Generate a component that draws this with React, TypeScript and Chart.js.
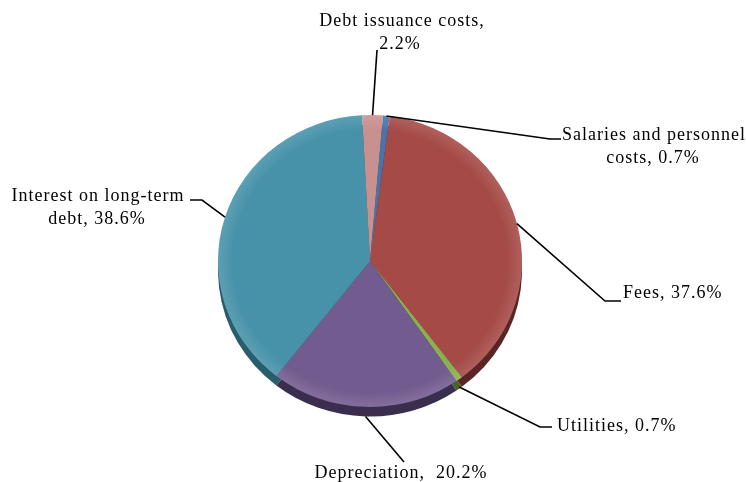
import { useEffect, useRef } from "react";
import { Chart, registerables } from "chart.js";
Chart.register(...registerables);

const categories = [
  "Debt issuance costs",
  "Salaries and personnel costs",
  "Fees",
  "Utilities",
  "Depreciation",
  "Interest on long-term debt",
];
const values = [2.2, 0.7, 37.6, 0.7, 20.2, 38.6];
const labelText = [
  ["Debt issuance costs,", "2.2%"],
  ["Salaries and personnel", "costs, 0.7%"],
  ["Fees, 37.6%"],
  ["Utilities, 0.7%"],
  ["Depreciation,  20.2%"],
  ["Interest on long-term", "debt, 38.6%"],
];
const colors = ["#C8908E", "#4A74A8", "#A54A47", "#8CAF50", "#725B8F", "#4792A9"];
const shadowColors = ["#6E4A49", "#26405E", "#5A2624", "#4C6128", "#3A2D4D", "#2A5D6C"];

const YSCALE = 0.96;
const SHADOW = 10;

// label layout: leader elbow points and text lines (x, y baseline, align)
const layout = [
  { pts: [[377, 50]], lines: [[402, 26, "center"], [400, 49, "center"]] },
  { pts: [[550, 139], [561, 139]], lines: [[654, 140, "center"], [653, 163, "center"]] },
  { pts: [[605, 301], [621, 301]], lines: [[623, 298, "left"]] },
  { pts: [[540, 427], [552, 427]], lines: [[557, 431, "left"]] },
  { pts: [[404, 462]], lines: [[401, 478, "center"]] },
  { pts: [[202, 200], [190, 200]], lines: [[98, 201, "center"], [97, 224, "center"]] },
];

const pie3d = {
  id: "pie3d",
  beforeDatasetsDraw(chart: any) {
    const ctx = chart.ctx;
    const arcs = chart.getDatasetMeta(0).data;
    if (!arcs.length) return;
    const cx = arcs[0].x, cy = arcs[0].y;
    ctx.save();
    ctx.translate(cx, cy);
    ctx.scale(1, YSCALE);
    ctx.translate(-cx, -cy);
    arcs.forEach((a: any, i: number) => {
      ctx.beginPath();
      ctx.moveTo(a.x, a.y + SHADOW);
      ctx.arc(a.x, a.y + SHADOW, a.outerRadius, a.startAngle, a.endAngle);
      ctx.closePath();
      ctx.fillStyle = shadowColors[i];
      ctx.fill();
    });
  },
  afterDatasetsDraw(chart: any) {
    const ctx = chart.ctx;
    const arcs = chart.getDatasetMeta(0).data;
    // soft bevel on the top face
    if (arcs.length) {
      const a0 = arcs[0];
      const g = ctx.createRadialGradient(a0.x, a0.y, a0.outerRadius * 0.9, a0.x, a0.y, a0.outerRadius);
      g.addColorStop(0, "rgba(255,255,255,0)");
      g.addColorStop(1, "rgba(255,255,255,0.12)");
      ctx.beginPath();
      ctx.arc(a0.x, a0.y, a0.outerRadius, 0, Math.PI * 2);
      ctx.fillStyle = g;
      ctx.fill();
    }
    ctx.restore();
    ctx.save();
    ctx.strokeStyle = "#000";
    ctx.lineWidth = 1.6;
    arcs.forEach((a: any, i: number) => {
      const mid = (a.startAngle + a.endAngle) / 2;
      const sx = a.x + Math.cos(mid) * a.outerRadius;
      let sy = a.y + Math.sin(mid) * a.outerRadius * YSCALE;
      if (Math.sin(mid) > 0.5) sy += SHADOW * YSCALE * Math.sin(mid);
      ctx.beginPath();
      ctx.moveTo(sx, sy);
      layout[i].pts.forEach((p) => ctx.lineTo(p[0], p[1]));
      ctx.stroke();
      ctx.fillStyle = "#000";
      ctx.font = "18px 'Liberation Serif'";
      (ctx as any).letterSpacing = "1px";
      ctx.textBaseline = "alphabetic";
      labelText[i].forEach((t, j) => {
        const l: any = layout[i].lines[j];
        ctx.textAlign = l[2];
        ctx.fillText(t, l[0], l[1]);
      });
    });
    ctx.restore();
  },
};

export default function App() {
  const ref = useRef<HTMLCanvasElement>(null);
  useEffect(() => {
    if (!ref.current) return;
    const chart = new Chart(ref.current, {
      type: "pie",
      data: {
        labels: categories,
        datasets: [
          {
            data: values,
            backgroundColor: colors,
            borderWidth: 0,
          },
        ],
      },
      options: {
        animation: false,
        responsive: true,
        maintainAspectRatio: false,
        events: [],
        rotation: -3,
        layout: { padding: { left: 218, right: 224, top: 109, bottom: 69 } },
        plugins: {
          legend: { display: false },
          tooltip: { enabled: false },
        },
      },
      plugins: [pie3d],
    });
    return () => chart.destroy();
  }, []);
  return (
    <div style={{ position: "absolute", left: 0, top: 0, width: 746, height: 482, background: "#fff" }}>
      <canvas ref={ref} />
    </div>
  );
}
